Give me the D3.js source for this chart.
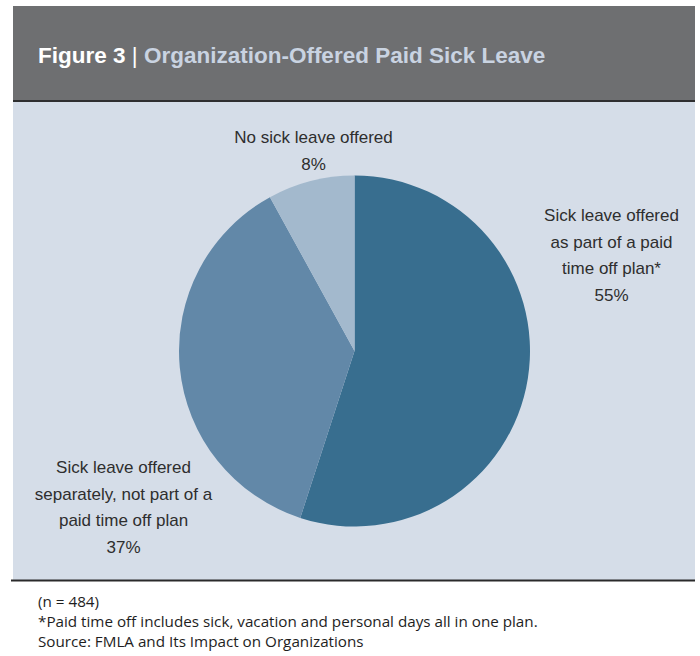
<!DOCTYPE html>
<html>
<head>
<meta charset="utf-8">
<script src="https://cdn.jsdelivr.net/npm/d3@7"></script>
<style>
  body { margin: 0; background: #fff; }
  svg { display: block; }
</style>
</head>
<body>
<div id="chart"></div>
<script>
// data
var categories = [
  'Sick leave offered as part of a paid time off plan*',
  'Sick leave offered separately, not part of a paid time off plan',
  'No sick leave offered'
]
var values = [55, 37, 8]
var labelLines = [
  ['Sick leave offered', 'as part of a paid', 'time off plan*'],
  ['Sick leave offered', 'separately, not part of a', 'paid time off plan'],
  ['No sick leave offered']
]
var notes = [
  '(n = 484)',
  '*Paid time off includes sick, vacation and personal days all in one plan.',
  'Source: FMLA and Its Impact on Organizations'
]

var width = 700, height = 656
var cx = 354.5, cy = 351, radius = 175.5

// where each label block starts (first baseline), relative to pie centre
var labelOffset = [[257, -130], [-231, 122], [-41, -208]]

var svg = d3.select('#chart')
  .append('svg')
  .attr('width', width)
  .attr('height', height)

// header band
svg.append('rect')
  .attr('x', 13).attr('y', 6)
  .attr('width', 682).attr('height', 95)
  .attr('fill', '#6e6f71')
svg.append('rect')
  .attr('x', 13).attr('y', 100)
  .attr('width', 682).attr('height', 2)
  .attr('fill', '#2f2f30')

// chart panel
svg.append('rect')
  .attr('x', 13).attr('y', 102)
  .attr('width', 682).attr('height', 478)
  .attr('fill', '#d5dde8')
svg.append('rect')
  .attr('x', 11).attr('y', 579.5)
  .attr('width', 684).attr('height', 2)
  .attr('fill', '#2a2a2b')

// title
var title = svg.append('text')
  .attr('x', 38).attr('y', 63)
  .attr('font-family', '"Liberation Sans", Arial, sans-serif')
  .attr('font-size', 22.5)
  .attr('font-weight', 'bold')
title.append('tspan').attr('fill', '#ffffff').text('Figure 3 ')
title.append('tspan').attr('fill', '#ffffff').attr('font-weight', 'normal').text('| ')
title.append('tspan').attr('fill', '#c9d3e1').text('Organization-Offered Paid Sick Leave')

// pie
var color = d3.scaleOrdinal()
  .domain(categories)
  .range(['#386e8f', '#6288a8', '#a3b9cd'])

var pie = d3.pie()
  .sort(null)
  .value(function(d) { return d })

var arc = d3.arc()
  .innerRadius(0)
  .outerRadius(radius)

var g = svg.append('g')
  .attr('transform', 'translate(' + cx + ',' + cy + ')')

g.selectAll('path')
  .data(pie(values))
  .enter()
  .append('path')
  .attr('d', arc)
  .attr('fill', function(d, i) { return color(categories[i]) })

// labels
var labels = g.selectAll('text.lbl')
  .data(pie(values))
  .enter()
  .append('text')
  .attr('class', 'lbl')
  .attr('text-anchor', 'middle')
  .attr('font-family', '"Liberation Sans", Arial, sans-serif')
  .attr('font-size', 17)
  .attr('fill', '#2e2e2e')
  .attr('transform', function(d, i) {
    return 'translate(' + labelOffset[i][0] + ',' + labelOffset[i][1] + ')'
  })

labels.each(function(d, i) {
  var t = d3.select(this)
  var lines = labelLines[i].concat([d.data + '%'])
  lines.forEach(function(line, j) {
    t.append('tspan')
      .attr('x', 0)
      .attr('y', j * 26.5)
      .text(line)
  })
})

// footnotes
var noteText = svg.selectAll('text.note')
  .data(notes)
  .enter()
  .append('text')
  .attr('class', 'note')
  .attr('x', 38)
  .attr('y', function(d, i) { return 607 + i * 20 })
  .attr('font-family', '"Open Sans", Lato, sans-serif')
  .attr('font-size', 14)
  .attr('fill', '#1e1e1e')
  .text(function(d) { return d })

// size the footnotes so the long line spans ~500px like the original
var longest = noteText.filter(function(d, i) { return i === 1 }).node()
var fs = 14 * 500 / longest.getComputedTextLength()
noteText.attr('font-size', fs)
</script>
</body>
</html>
